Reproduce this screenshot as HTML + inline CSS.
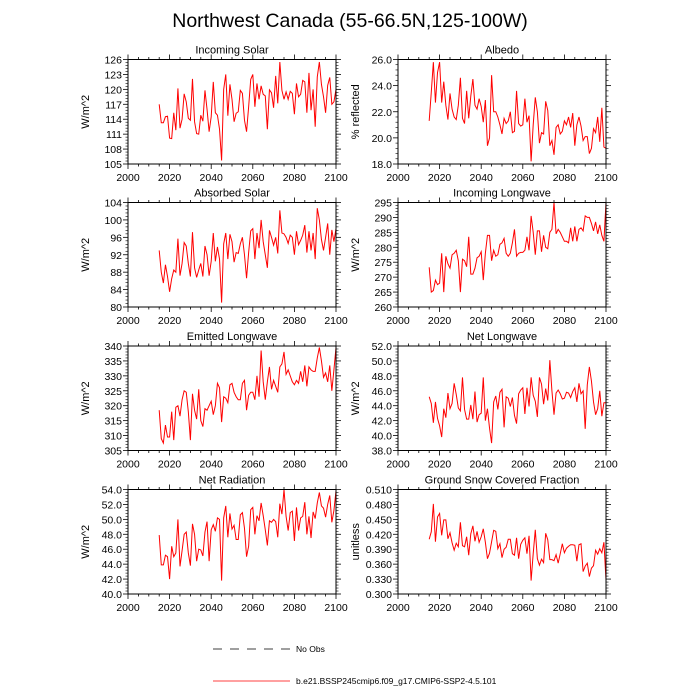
<!DOCTYPE html>
<html><head><meta charset="utf-8"><style>
html,body{margin:0;padding:0;background:#fff;}
svg{display:block;font-family:"Liberation Sans",sans-serif;}
</style></head><body>
<svg id="chart" width="700" height="700" viewBox="0 0 700 700" xmlns="http://www.w3.org/2000/svg">
<rect width="700" height="700" fill="#fff"/>
<text x="350" y="27" font-size="19.5" text-anchor="middle">Northwest Canada (55-66.5N,125-100W)</text>
<g id="panels"></g>
<g>
<line x1="213" y1="649" x2="290" y2="649" stroke="#000" stroke-width="0.8" stroke-dasharray="9,8"/>
<text x="296" y="652" font-size="8.5">No Obs</text>
<line x1="213" y1="681" x2="290" y2="681" stroke="#f00" stroke-width="0.8"/>
<text x="296" y="684" font-size="8.5">b.e21.BSSP245cmip6.f09_g17.CMIP6-SSP2-4.5.101</text>
</g>
</svg>
<script>
const startYear = 2015;
const xTicks = [2000,2020,2040,2060,2080,2100];
const panelTitles = ["Incoming Solar","Albedo","Absorbed Solar","Incoming Longwave","Emitted Longwave","Net Longwave","Net Radiation","Ground Snow Covered Fraction"];
const yTitles = ["W/m^2","% reflected","W/m^2","W/m^2","W/m^2","W/m^2","W/m^2","unitless"];
const incomingSolar = [117,113.3,113.3,114.5,114.6,110.2,110.1,115.3,111.8,120.2,112.2,114,119.1,117.5,114.2,113.8,122.1,113.5,111.1,111,114.8,113.6,119.8,116,111.5,114.5,121.5,115.3,114.8,112,105.7,120,123,114.7,121,118,113.5,115.2,115.5,119.8,119.2,113.8,111.5,116.5,122,123,116.5,121.2,118,120.7,119,118.7,112,119.9,119.3,116.3,122.7,117.2,125.5,119.8,118,119.5,118,119.6,119.2,115,121.2,118.5,119,121.8,121.5,115.3,123.3,115.8,120,112.5,122.5,125.5,121,118.5,115.3,120.8,122.4,117,117.5,120];
const albedo = [21.3,23.5,25.8,22.7,25,25.8,22.7,24.3,22.5,21.4,23.4,22.2,21.6,21.4,22.5,24.6,21.5,21.1,23.6,21.5,23.2,24.5,22.5,22.2,23,22.4,21.2,22.9,19.4,20,24.8,22,22,21.6,21,20.3,21.5,21.1,21.3,22,20.4,20.5,23.6,21.1,20.9,21,23,21.2,21.7,18.2,21,23.1,22,19.6,20.4,20.3,22.8,22.1,19.4,19.8,18.7,20.8,21,20.3,20.5,21.3,21,21.6,20.8,21.9,19.4,21,21.6,20.9,19.8,20.1,20.1,18.8,19.2,20.7,20.4,21.6,19.7,22.3,19.3,19.2];
const absorbedSolar = [93,88,85.5,89.7,87,83.5,86.5,88.5,88,95.7,87.2,90,94.8,94,90,87,97.2,89,86.8,88.5,90,87,94,92,87.2,90.5,97,90.5,93.8,91,81,94.5,97,91,96.7,95,90.3,92.5,92.3,94.5,96,92,86.6,92.5,97.5,98,91,97,93.5,100,95,92,89,97.6,96,94.2,96,92.3,102.2,97,96.8,96,94.6,96.5,96,92,97.4,94.3,95.3,96.5,98.8,92.5,97.4,93,97,91,102.7,100,95.5,93,96,99.2,92,97.7,95,98];
const incomingLW = [273.3,265,265.5,269,267.5,268,278,265,277,274.5,273,277.5,278,279,275.5,265,276,275.5,273.5,283.5,271,271,273,276.5,277,278.5,269,278,284,284,275.5,279,277,277.5,281,281.5,283,278,277,278,281.5,286,277,278,278.3,278.3,279,283.5,279,290.5,285,277.5,285.5,285.5,278.5,284,280,279.5,285,286,295,284.5,286,285,283.5,282,282,281.5,286.5,282,287,282,286,286.5,285.5,290.5,290,290,288,285.5,288.5,284.5,287.5,284,282,295];
const emittedLW = [318.5,309,307.5,313.5,309.5,309.5,318,308.5,319.5,320,316.5,322,325,324.5,318,308.5,324,318.5,315.5,325.5,315,313,319,318.5,320,321.5,317,320,327.5,326,314.5,323,322.5,321,327,327.5,324.5,323,322,322,327.5,328.5,318.5,323.5,324.5,324.5,322,330,323,338.5,328,322,328,333,325.5,328.5,326.5,324.5,333,334,338,330.5,332,330,328,327,328.5,327.5,331.5,328,333.5,326.5,333,332,331.5,331.5,336,339.5,335,329.5,331,328,333.5,325,332,339.5];
const netLW = [45.2,44.3,41.7,44.5,42.3,41.3,39.8,43.6,42.4,45.7,43.6,44.3,47,45.5,43.7,43.3,47.8,43.5,42.2,42.2,44.1,42.2,45.9,41.8,42.8,43,47.8,42,43.6,41,39,44.5,45.3,43.5,45.8,46.2,41.1,45.2,45,43.9,45.1,42.7,41.6,45.6,46.1,46.4,42.9,46.4,43.9,47.8,45.4,44.6,42.5,47.8,46.9,44.2,46.3,44.7,50.1,46,42.8,45.7,46.1,45.6,44.9,45,45.8,45.7,45.1,45.9,46.4,44.5,47,45.6,46,40.9,46.8,49.2,47.3,44.5,42.8,43.6,46,42.6,44.4,44.4];
const netRad = [47.9,43.9,43.9,45.2,45,42,46.4,45,45.5,50,43.7,45.8,48,48.3,45.5,43.8,49.4,48,44.4,46,45.9,45.1,48.3,49.7,44.4,48.6,49.3,48.4,50.2,50,41.8,50.2,51.8,47.6,50.8,48.7,49.2,47.3,47.3,50.6,50.9,48.8,45,46.4,51.3,51.6,48,50.5,49.8,52.2,50.5,48.6,46.5,49.8,49.6,50,49.7,47.6,52.1,50.7,54,50.4,48.5,50.9,51.1,47.1,51.6,48.5,50.2,50.4,52.3,48,50.4,47.5,51,50.1,52.2,53.6,51.8,51.5,50.3,52,53.2,49.6,51.2,53.8];
const snowFrac = [0.410,0.425,0.481,0.405,0.455,0.462,0.418,0.449,0.449,0.411,0.423,0.403,0.388,0.402,0.395,0.444,0.397,0.395,0.415,0.378,0.421,0.437,0.406,0.426,0.404,0.415,0.431,0.404,0.371,0.382,0.405,0.428,0.426,0.391,0.401,0.373,0.390,0.394,0.410,0.410,0.381,0.378,0.413,0.371,0.400,0.408,0.413,0.381,0.417,0.327,0.381,0.429,0.371,0.358,0.370,0.363,0.422,0.409,0.369,0.369,0.367,0.379,0.362,0.381,0.401,0.383,0.392,0.396,0.399,0.399,0.398,0.366,0.399,0.401,0.345,0.356,0.362,0.335,0.352,0.357,0.388,0.380,0.391,0.383,0.404,0.328];
const yMins = [105,18,80,260,305,38,40,0.300];
const yMaxs = [126,26,104,295,340,52,54,0.510];
const ySteps = [3,2,4,5,5,2,2,0.030];
const yDecimals = [0,1,0,0,0,1,1,3];
const series = [incomingSolar,albedo,absorbedSolar,incomingLW,emittedLW,netLW,netRad,snowFrac];
const panelNames = ["incoming-solar","albedo","absorbed-solar","incoming-longwave","emitted-longwave","net-longwave","net-radiation","snow-fraction"];

const NS="http://www.w3.org/2000/svg";
const root=document.getElementById('panels');
function mk(tag,attrs,parent){const e=document.createElementNS(NS,tag);for(const k in attrs)e.setAttribute(k,attrs[k]);parent.appendChild(e);return e;}
const lefts=[128,398], tops=[59.5,202.5,346,489.5], W=208, H=104.5;
for(let p=0;p<8;p++){
  const x0=lefts[p%2], y0=tops[Math.floor(p/2)];
  const g=mk('g',{},root);
  
  
  const xs=v=>x0+(v-2000)/100*W;
  const ys=v=>y0+H-(v-yMins[p])/(yMaxs[p]-yMins[p])*H;
  for(let yr=2000;yr<=2100;yr+=5){
    const X=xs(yr), L=(yr%20===0)?5:2.5;
    mk('line',{x1:X,y1:y0+H,x2:X,y2:y0+H+L,stroke:'#000','stroke-width':0.8},g);
    mk('line',{x1:X,y1:y0,x2:X,y2:y0-L,stroke:'#000','stroke-width':0.8},g);
  }
  xTicks.forEach(t=>{
    const tx=mk('text',{x:xs(t),y:y0+H+17,'font-size':10.5,'text-anchor':'middle'},g);
    
    
    tx.textContent=t;
  });
  const nT=Math.round((yMaxs[p]-yMins[p])/ySteps[p]);
  for(let i=0;i<=nT;i++){
    const v=yMins[p]+i*ySteps[p], Y=ys(v);
    mk('line',{x1:x0,y1:Y,x2:x0-5,y2:Y,stroke:'#000','stroke-width':0.8},g);
    mk('line',{x1:x0+W,y1:Y,x2:x0+W+5,y2:Y,stroke:'#000','stroke-width':0.8},g);
    if(i<nT){for(let m=1;m<5;m++){const Ym=ys(v+ySteps[p]*m/5);
      mk('line',{x1:x0,y1:Ym,x2:x0-2.5,y2:Ym,stroke:'#000','stroke-width':0.6},g);
      mk('line',{x1:x0+W,y1:Ym,x2:x0+W+2.5,y2:Ym,stroke:'#000','stroke-width':0.6},g);}}
    const tl=mk('text',{x:x0-6,y:Y+4,'font-size':10.5,'text-anchor':'end'},g);
    
    
    tl.textContent=v.toFixed(yDecimals[p]);
  }
  const d=series[p].map((v,i)=>(i?'L':'M')+xs(startYear+i).toFixed(2)+','+ys(v).toFixed(2)).join('');
  const ln=mk('path',{d:d,fill:'none',stroke:'#f00','stroke-width':1},g);
  
  
  mk('rect',{x:x0,y:y0,width:W,height:H,fill:'none',stroke:'#000','stroke-width':1},g);
  const tt=mk('text',{x:x0+W/2,y:y0-6,'font-size':11,'text-anchor':'middle'},g);
  
  
  tt.textContent=panelTitles[p];
  const ax=x0-39, ay=y0+H/2;
  const yt=mk('text',{x:ax,y:ay,'font-size':11,'text-anchor':'middle',transform:'rotate(-90 '+ax+' '+ay+')'},g);
  
  
  yt.textContent=yTitles[p];
}
</script>
</body></html>
